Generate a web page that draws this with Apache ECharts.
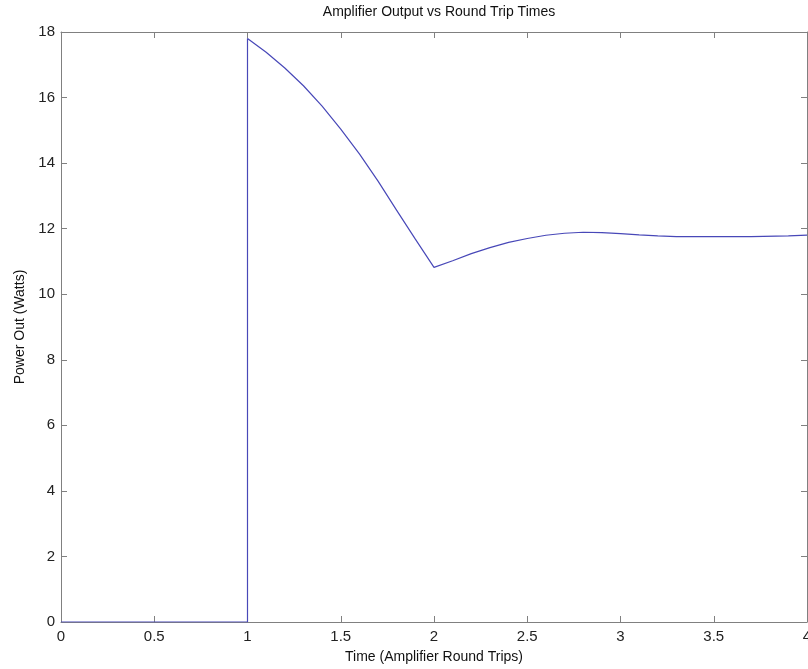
<!DOCTYPE html>
<html>
<head>
<meta charset="utf-8">
<script src="https://cdn.jsdelivr.net/npm/echarts@6/dist/echarts.min.js"></script>
<style>
  html, body { margin: 0; padding: 0; background: #fff; }
  #chart { width: 808px; height: 669px; }
</style>
</head>
<body>
<div id="chart"></div>
<script>
// values
var timeVals  = [0, 1, 1, 1.1, 1.2, 1.3, 1.4, 1.5, 1.6, 1.7, 1.8, 1.9, 2.0,
                 2.1, 2.2, 2.3, 2.4, 2.5, 2.6, 2.7, 2.8, 2.9, 3.0, 3.1, 3.2, 3.3, 3.5, 3.7, 3.9, 4.0];
var powerVals = [0, 0, 17.8, 17.38, 16.9, 16.36, 15.74, 15.04, 14.28, 13.45, 12.56, 11.68, 10.82,
                 11.02, 11.24, 11.42, 11.58, 11.7, 11.8, 11.86, 11.89, 11.88, 11.85, 11.81, 11.78, 11.76, 11.76, 11.76, 11.78, 11.8];
var xTicks = [0, 0.5, 1, 1.5, 2, 2.5, 3, 3.5, 4];
var yTicks = [0, 2, 4, 6, 8, 10, 12, 14, 16, 18];

var seriesData = [];
timeVals.forEach(function (t, i) {
    seriesData.push([t, powerVals[i]]);
});

var axisGray = '#808080';
var font = 'Liberation Sans, Arial, sans-serif';

function boxAxis(pos) {
    return {
        type: 'value',
        position: pos,
        axisLine: { show: true, onZero: false, lineStyle: { color: axisGray, width: 1 } },
        axisTick: { show: true, inside: true, length: 6, lineStyle: { color: axisGray } },
        axisLabel: { show: false },
        splitLine: { show: false }
    };
}

var myChart = echarts.init(document.getElementById('chart'));

var xBottom = boxAxis('bottom');
xBottom.name = 'Time (Amplifier Round Trips)';
xBottom.nameLocation = 'middle';
xBottom.nameGap = 28;
xBottom.nameTextStyle = { fontFamily: font, fontSize: 14, color: '#111' };
xBottom.axisLabel = { show: true, fontFamily: font, fontSize: 15, color: '#222', margin: 7,
                      formatter: function (v) { return String(v); } };
var xTop = boxAxis('top');
[xBottom, xTop].forEach(function (a) {
    a.min = xTicks[0]; a.max = xTicks[xTicks.length - 1]; a.interval = 0.5;
});

var yLeft = boxAxis('left');
yLeft.name = 'Power Out (Watts)';
yLeft.nameLocation = 'middle';
yLeft.nameGap = 34;
yLeft.nameTextStyle = { fontFamily: font, fontSize: 14, color: '#111' };
yLeft.axisLabel = { show: true, fontFamily: font, fontSize: 15, color: '#222', margin: 6 };
var yRight = boxAxis('right');
[yLeft, yRight].forEach(function (a) {
    a.min = yTicks[0]; a.max = yTicks[yTicks.length - 1]; a.interval = 2;
});

var option = {
    animation: false,
    backgroundColor: '#fff',
    title: {
        text: 'Amplifier Output vs Round Trip Times',
        left: 434,
        textAlign: 'center',
        top: 0,
        textStyle: { fontFamily: font, fontSize: 14, fontWeight: 'normal', color: '#111' }
    },
    grid: { left: 61, top: 32, width: 746, height: 590, outerBoundsMode: 'none', containLabel: false },
    xAxis: [xBottom, xTop],
    yAxis: [yLeft, yRight],
    series: [
        {
            name: 'Power Out',
            type: 'line',
            xAxisIndex: 0,
            yAxisIndex: 0,
            data: seriesData,
            showSymbol: false,
            smooth: false,
            lineStyle: { color: '#4848b8', width: 1.2 }
        }
    ]
};

myChart.setOption(option);
</script>
</body>
</html>
